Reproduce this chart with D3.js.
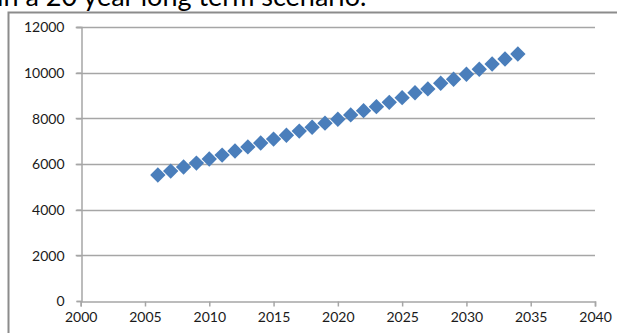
<!DOCTYPE html>
<html>
<head>
<meta charset="utf-8">
<script src="https://cdn.jsdelivr.net/npm/d3@7"></script>
<style>
  body { margin: 0; background: #fff; }
  svg { display: block; }
</style>
</head>
<body>
<svg id="chart" width="617" height="333"></svg>
<script>
// data
var years = [2006, 2007, 2008, 2009, 2010, 2011, 2012, 2013, 2014, 2015,
  2016, 2017, 2018, 2019, 2020, 2021, 2022, 2023, 2024, 2025,
  2026, 2027, 2028, 2029, 2030, 2031, 2032, 2033, 2034];
var values = [5520, 5690, 5870, 6040, 6220, 6390, 6570, 6750, 6920, 7090,
  7260, 7440, 7610, 7790, 7960, 8150, 8335, 8510, 8700, 8905,
  9120, 9290, 9535, 9710, 9930, 10150, 10380, 10600, 10820];
var xTicks = [2000, 2005, 2010, 2015, 2020, 2025, 2030, 2035, 2040];
var yTicks = [0, 2000, 4000, 6000, 8000, 10000, 12000];
var caption = "in a 20 year long term scenario.";

var svg = d3.select("#chart");

// caption text cut off at the top
svg.append("text")
  .attr("x", -3)
  .attr("y", 6)
  .attr("font-family", "Lato, 'Open Sans', sans-serif")
  .attr("font-size", 27)
  .attr("fill", "#000")
  .text(caption);

// chart frame
svg.append("path")
  .attr("d", "M8.5,340 V12.5 H640")
  .attr("fill", "none")
  .attr("stroke", "#8c8c8c")
  .attr("stroke-width", 2);

var plot = { left: 80.7, right: 595, top: 27, bottom: 301 };

var x = d3.scaleLinear().domain([2000, 2040]).range([plot.left, plot.right]);
var y = d3.scaleLinear().domain([0, 12000]).range([plot.bottom, plot.top]);

// gridlines
svg.append("g")
  .selectAll("line")
  .data(yTicks.filter((d) => d > 0))
  .enter()
  .append("line")
  .attr("x1", plot.left - 5)
  .attr("x2", plot.right)
  .attr("y1", (d) => Math.round(y(d)) + 0.5)
  .attr("y2", (d) => Math.round(y(d)) + 0.5)
  .attr("stroke", "#a6a6a6")
  .attr("stroke-width", 1.5);

// y axis
var yAxis = svg.append("g")
  .attr("transform", "translate(" + (Math.round(plot.left) + 0.5) + ",0)")
  .call(d3.axisLeft(y).tickValues(yTicks).tickSize(5).tickFormat(d3.format("d")));

// x axis
var xAxis = svg.append("g")
  .attr("transform", "translate(0," + (Math.round(plot.bottom) + 0.5) + ")")
  .call(d3.axisBottom(x).tickValues(xTicks).tickSize(5).tickFormat(d3.format("d")));

[yAxis, xAxis].forEach(function (a) {
  a.select(".domain").attr("stroke", "#a6a6a6").attr("stroke-width", 1.5);
  a.selectAll(".tick line").attr("stroke", "#a6a6a6").attr("stroke-width", 1.5);
  a.selectAll("text")
    .attr("font-family", "Lato, 'Open Sans', sans-serif")
    .attr("font-size", 14)
    .attr("fill", "#1a1a1a");
});
yAxis.selectAll("text").attr("x", -17).attr("dy", "0.35em");
xAxis.selectAll("text").attr("y", 11);

// markers
var diamond = d3.symbol().type(d3.symbolSquare).size(118);
svg.append("g")
  .selectAll("path")
  .data(years.map((yr, i) => ({ year: yr, value: values[i] })))
  .enter()
  .append("path")
  .attr("d", diamond)
  .attr("transform", (d) => "translate(" + x(d.year) + "," + y(d.value) + ") rotate(45)")
  .attr("fill", "#4a7ebb");
</script>
</body>
</html>
